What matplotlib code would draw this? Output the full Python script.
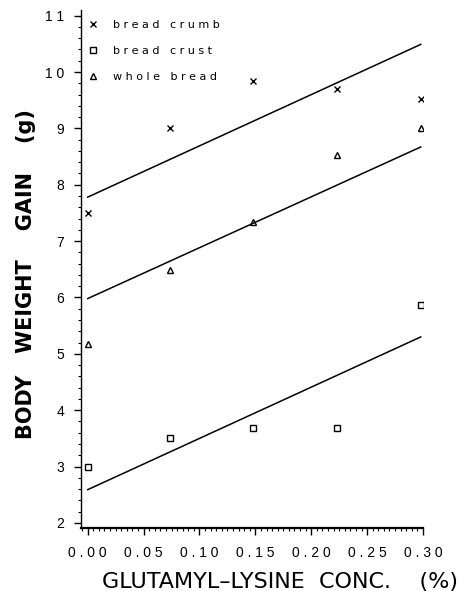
import matplotlib
matplotlib.use("Agg")
import matplotlib.pyplot as plt
from matplotlib.ticker import MultipleLocator, FuncFormatter
import numpy as np

# glutamyl-lysine concentration (%) at which the points sit
conc = [0.0, 0.074, 0.148, 0.223, 0.298]

crumb = [7.50, 9.00, 9.84, 9.69, 9.52]
crust = [3.00, 3.51, 3.68, 3.68, 5.86]
whole = [5.17, 6.49, 7.33, 8.52, 9.00]

# fitted lines, value at the first and last concentration
line_x = [0.0, 0.298]
crumb_fit = [7.78, 10.49]
crust_fit = [2.59, 5.30]
whole_fit = [5.98, 8.67]

labels = ["bread crumb", "bread crust", "whole bread"]


def spaced(s):
    return " ".join(s)


fig = plt.figure(figsize=(4.64, 5.91), dpi=100)
ax = fig.add_axes([81 / 464, 1 - 528 / 591, 342 / 464, 518 / 591])

ms = dict(color="black", linestyle="none", markersize=5, markeredgewidth=1.0)
h1, = ax.plot(conc, crumb, marker="x", label=spaced(labels[0]), **ms)
h2, = ax.plot(conc, crust, marker="s", markerfacecolor="white", label=spaced(labels[1]), **ms)
h3, = ax.plot(conc, whole, marker="^", markerfacecolor="white", label=spaced(labels[2]), **ms)

for fit in (crumb_fit, crust_fit, whole_fit):
    ax.plot(line_x, fit, "-k", lw=1.1)

ax.set_xlim(-0.006, 0.300)
ax.set_ylim(1.91, 11.1)

ax.spines["top"].set_visible(False)
ax.spines["right"].set_visible(False)
ax.spines["left"].set_linewidth(1.0)
ax.spines["bottom"].set_linewidth(1.6)

ax.xaxis.set_major_locator(MultipleLocator(0.05))
ax.xaxis.set_minor_locator(MultipleLocator(0.005))
ax.yaxis.set_major_locator(MultipleLocator(1))
ax.yaxis.set_minor_locator(MultipleLocator(0.2))
ax.xaxis.set_major_formatter(FuncFormatter(lambda v, p: spaced(f"{v:.2f}")))
ax.yaxis.set_major_formatter(FuncFormatter(lambda v, p: spaced(f"{v:.0f}")))

ax.tick_params(which="major", direction="out", length=5, width=1, labelsize=10, pad=8)
ax.tick_params(which="minor", direction="out", length=2.5, width=0.8)
ax.tick_params(axis="y", which="major", pad=7)
for t in ax.get_xticklabels() + ax.get_yticklabels():
    t.set_family("Liberation Sans")

ax.set_xlabel("GLUTAMYL\u2013LYSINE  CONC.    (%)", fontsize=16, family="DejaVu Sans")
ax.xaxis.set_label_coords(0.582, -0.085)
ax.set_ylabel("BODY   WEIGHT    GAIN    (g)", fontsize=15,
              fontweight="bold", family="DejaVu Sans")
ax.yaxis.set_label_coords(-0.132, 0.49)

ax.legend(handles=[h1, h2, h3], loc="upper left", bbox_to_anchor=(0.0, 0.994),
          frameon=False, fontsize=8, handlelength=1.0, handletextpad=1.3,
          labelspacing=1.45, borderaxespad=0.3, borderpad=0.3)

fig.savefig("out.png", dpi=100)
